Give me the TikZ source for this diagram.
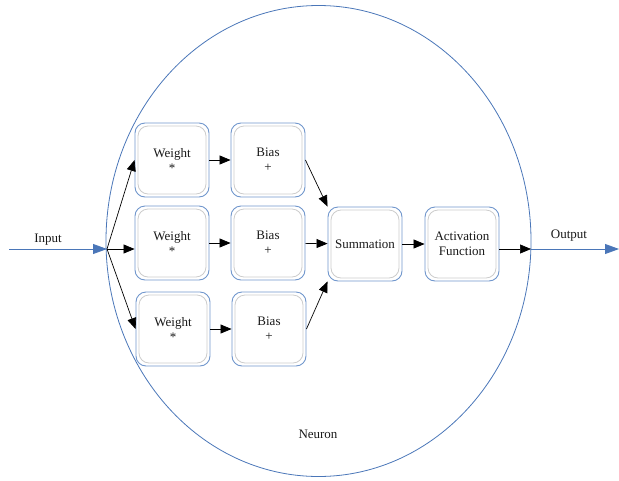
\documentclass[tikz,border=0pt]{standalone}
\usepackage{fontspec}
\setmainfont{Liberation Serif}
\usetikzlibrary{arrows.meta}
\definecolor{ellblue}{RGB}{74,118,184}
\definecolor{boxblue}{RGB}{112,150,204}
\tikzset{
  blk/.style={draw=boxblue, line width=0.9pt, rounded corners=10pt,
    minimum width=74pt, minimum height=74pt, align=center, inner sep=1pt,
    font=\fontsize{13}{15}\selectfont, text=black!90,
    path picture={\draw[black!20, line width=0.8pt]
      ([shift={(3pt,3pt)}]path picture bounding box.south west) rectangle
      ([shift={(-3pt,-3pt)}]path picture bounding box.north east);}},
  arr/.style={-{Triangle[length=11pt,width=9pt]}, line width=0.7pt, black},
  barr/.style={-{Triangle[length=14pt,width=10pt]}, line width=0.8pt, ellblue},
  lbl/.style={font=\fontsize{13}{15}\selectfont, text=black!90}
}
\begin{document}
\begin{tikzpicture}[x=1pt,y=-1pt]
\useasboundingbox (0,0) rectangle (619,480);
\draw[ellblue, line width=0.8pt] (318.5,241) ellipse [x radius=212.5, y radius=235.5];
\node[blk] (w1) at (172,160) {Weight\\*};
\node[blk] (b1) at (268,160) {Bias\\+};
\node[blk] (w2) at (172,243) {Weight\\*};
\node[blk] (b2) at (268,243) {Bias\\+};
\node[blk] (w3) at (173,329) {Weight\\*};
\node[blk] (b3) at (269,329) {Bias\\+};
\node[blk] (sum) at (365,244) {Summation};
\node[blk] (act) at (462,244) {Activation\\Function};
\coordinate (inL) at (9,249);
\coordinate (in) at (107,249);
\coordinate (out) at (531,249);
\coordinate (outR) at (619,249);
\node[lbl] (tin) at (48,240) {Input};
\node[lbl] (tout) at (569,236) {Output};
\node[lbl] (tneu) at (318,434) {Neuron};
\draw[barr] (inL) -- (in);
\draw[arr] (in) -- (w1.west);
\draw[arr] (in) -- (w2.west |- in);
\draw[arr] (in) -- (w3.west);
\draw[arr] (w1) -- (b1);
\draw[arr] (w2) -- (b2);
\draw[arr] (w3) -- (b3);
\draw[arr] (b1.east) -- (sum.north west);
\draw[arr] (b2) -- (sum);
\draw[arr] (b3.east) -- (sum.south west);
\draw[arr] (sum) -- (act);
\draw[arr] (act.east |- out) -- (out);
\draw[barr] (out) -- (outR);
\end{tikzpicture}
\end{document}
